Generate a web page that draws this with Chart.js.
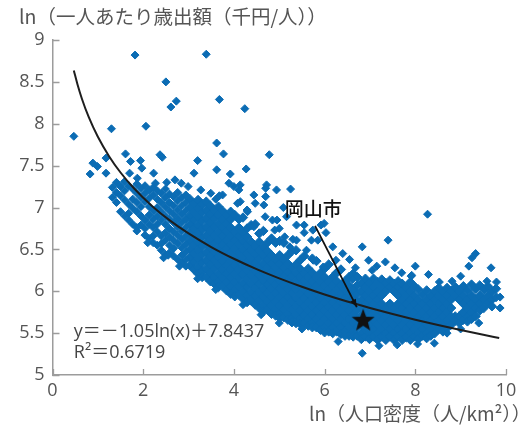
<!DOCTYPE html>
<html lang="ja">
<head>
<meta charset="utf-8">
<script src="https://cdn.jsdelivr.net/npm/chart.js@4.4.1/dist/chart.umd.min.js"></script>
<style>
  html, body { margin: 0; padding: 0; background: #fff; }
  #wrap { width: 519px; height: 427px; position: relative; }
</style>
</head>
<body>
<div id="wrap"><canvas id="densityChart"></canvas></div>
<script>
// x: ln(人口密度), y: ln(一人あたり歳出額)
const xTicks = [0, 2, 4, 6, 8, 10];
const yTicks = [5, 5.5, 6, 6.5, 7, 7.5, 8, 8.5, 9];

// scattered municipalities away from the main band
const outlierCities = [
    [0.47,7.85],[1.82,8.82],[2.5,8.5],[2.61,8.2],[2.73,8.27],[1.3,7.94],[2.06,7.97],
    [3.39,8.83],[3.68,8.29],[4.24,8.18],[3.62,7.77],[3.77,7.64],[4.78,7.63],[3.2,7.56],
    [3.62,7.45],[4.27,7.46],[3.92,7.4],[3.12,7.41],[4.7,7.23],[5.25,7.22],
    [0.89,7.53],[0.99,7.49],[0.83,7.4],[1.18,7.41],[1.18,7.59],[1.61,7.64],[1.72,7.55],
    [1.94,7.56],[1.97,7.47],[2.23,7.41],[2.37,7.63],[2.42,7.6],[2.27,7.29],[1.87,7.35],[1.7,7.41],
    [8.27,6.92],[9.33,6.45],[9.25,6.4],[9.18,6.3],[9.67,6.28],[7.91,6.18],[8.29,6.2],
    [8.53,6.11],[8.81,6.12],[9.79,6.11],[9.87,5.93],[9.87,5.8],[9.58,6.12],[9.0,6.18]
];

// fringe points above and below the dense band
const fringeCities = [
    [2.52,7.3],[2.7,7.33],[2.84,7.29],[2.99,7.25],[3.27,7.21],[3.49,7.17],[3.75,7.15],
    [3.89,7.29],[4.0,7.25],[4.11,7.21],[4.47,7.05],[4.7,7.13],[4.66,7.03],[4.72,7.27],
    [4.44,7.15],[4.14,7.07],[5.16,6.89],[5.38,6.79],[5.55,6.7],[5.74,6.73],[5.85,6.61],
    [5.09,7.0],[4.94,7.21],[5.92,6.79],[6.03,6.7],[6.4,6.45],[6.83,6.53],[7.4,6.61],
    [7.34,6.35],[7.55,6.28],[6.68,6.28],[7.05,6.25],[6.25,6.37],[7.92,6.19],[5.3,6.62],
    [5.0,6.75],[4.85,6.85],[4.3,6.95],[3.6,7.1],[6.55,6.38],[7.15,6.3],[7.7,6.22],[8.0,6.3],
    [4.14,7.27],[3.68,7.14],[4.08,7.05],[4.29,6.97],[4.69,6.89],[4.95,6.85],[5.55,6.79],
    [5.99,6.81],[5.38,6.61],[5.71,6.61],[5.23,6.53],[5.6,6.49],[6.97,6.37],[6.18,6.53],
    [4.9,6.73],[4.44,6.77],[5.12,6.65],[5.75,6.37],[5.97,6.29],[6.25,6.22],[6.62,6.14],
    [6.83,5.26],[8.42,5.38],[7.6,5.36],[8.05,5.37],[7.2,5.35],[6.3,5.4],[5.5,5.55],[5.0,5.62],
    [4.6,5.72],[4.2,5.84],[3.6,6.02],[3.2,6.15],[2.8,6.3],[2.45,6.4],[2.55,6.43],[2.1,6.58],
    [1.86,6.72],[9.0,5.55],[9.4,5.62],[8.7,5.5]
];

// dense band, one row per x: [x, y, y, ...]
const bandLow = [
    [1.32, 7.24, 7.12],
    [1.41, 7.3, 7.18, 7.06],
    [1.5, 7.25, 7.14, 6.95],
    [1.59, 7.31, 7.2, 7.09, 6.9],
    [1.68, 7.26, 7.04, 6.93, 6.85],
    [1.77, 7.22, 7.1, 6.99, 6.8],
    [1.86, 7.28, 7.17, 7.06, 6.95, 6.76],
    [1.95, 7.23, 7.12, 7.01, 6.9, 6.79],
    [2.04, 7.26, 7.17, 7.07, 6.85, 6.75, 6.67],
    [2.13, 7.21, 7.11, 7.01, 6.91, 6.8, 6.63],
    [2.22, 7.24, 7.15, 6.96, 6.86, 6.76, 6.66, 6.58],
    [2.31, 7.2, 7.1, 7.0, 6.9, 6.8, 6.71, 6.55],
    [2.4, 7.17, 7.06, 6.95, 6.85, 6.66, 6.57, 6.49],
    [2.49, 7.22, 7.12, 7.01, 6.9, 6.8, 6.7, 6.61, 6.44],
    [2.58, 7.16, 7.06, 6.96, 6.86, 6.75, 6.65, 6.55, 6.46],
    [2.67, 7.13, 7.02, 6.92, 6.82, 6.71, 6.61, 6.51, 6.42],
    [2.76, 7.18, 7.08, 6.97, 6.87, 6.77, 6.67, 6.57, 6.38],
    [2.85, 7.12, 7.02, 6.92, 6.82, 6.72, 6.62, 6.52, 6.43, 6.34],
    [2.94, 7.15, 7.06, 6.96, 6.86, 6.76, 6.66, 6.56, 6.47, 6.38, 6.3]
];

const bandMid = [
    [3.03, 7.1, 7.0, 6.9, 6.8, 6.7, 6.6, 6.5, 6.4, 6.31],
    [3.12, 7.05, 6.95, 6.85, 6.75, 6.65, 6.55, 6.45, 6.35, 6.26],
    [3.21, 7.09, 6.99, 6.89, 6.79, 6.69, 6.59, 6.49, 6.39, 6.29, 6.21],
    [3.3, 7.04, 6.94, 6.84, 6.74, 6.64, 6.54, 6.44, 6.34, 6.24, 6.17],
    [3.39, 7.07, 6.97, 6.87, 6.77, 6.67, 6.57, 6.47, 6.37, 6.27, 6.17],
    [3.48, 7.02, 6.92, 6.82, 6.72, 6.62, 6.52, 6.42, 6.32, 6.22, 6.12],
    [3.57, 6.97, 6.87, 6.77, 6.67, 6.57, 6.47, 6.37, 6.27, 6.17, 6.09],
    [3.66, 7.01, 6.91, 6.81, 6.71, 6.61, 6.51, 6.41, 6.31, 6.21, 6.11, 6.05],
    [3.75, 6.96, 6.86, 6.76, 6.66, 6.56, 6.46, 6.36, 6.26, 6.16, 6.06],
    [3.84, 6.91, 6.81, 6.71, 6.61, 6.51, 6.41, 6.31, 6.21, 6.11, 6.01],
    [3.93, 6.95, 6.86, 6.76, 6.66, 6.56, 6.46, 6.36, 6.26, 6.16, 6.06, 5.97],
    [4.02, 6.91, 6.71, 6.61, 6.51, 6.41, 6.31, 6.21, 6.11, 6.01, 5.94],
    [4.11, 6.86, 6.76, 6.66, 6.56, 6.46, 6.36, 6.26, 6.16, 6.06, 5.96],
    [4.2, 6.88, 6.7, 6.6, 6.5, 6.4, 6.3, 6.2, 6.1, 6.0, 5.91],
    [4.29, 6.75, 6.65, 6.55, 6.45, 6.35, 6.25, 6.15, 6.05, 5.95, 5.87],
    [4.38, 6.79, 6.59, 6.49, 6.39, 6.29, 6.19, 6.09, 5.99, 5.89],
    [4.47, 6.8, 6.54, 6.44, 6.34, 6.24, 6.14, 6.04, 5.94, 5.84],
    [4.56, 6.69, 6.59, 6.49, 6.39, 6.29, 6.19, 6.09, 5.99, 5.89, 5.8],
    [4.65, 6.72, 6.53, 6.43, 6.33, 6.23, 6.13, 6.03, 5.93, 5.83, 5.76],
    [4.74, 6.58, 6.48, 6.38, 6.28, 6.18, 6.08, 5.98, 5.88, 5.78],
    [4.83, 6.63, 6.43, 6.33, 6.23, 6.13, 6.03, 5.93, 5.83, 5.73],
    [4.92, 6.58, 6.38, 6.28, 6.18, 6.08, 5.98, 5.88, 5.78, 5.71],
    [5.01, 6.6, 6.43, 6.33, 6.23, 6.13, 6.03, 5.93, 5.83, 5.73, 5.68],
    [5.1, 6.58, 6.38, 6.28, 6.18, 6.08, 5.98, 5.88, 5.78, 5.69],
    [5.19, 6.43, 6.33, 6.23, 6.13, 6.03, 5.93, 5.83, 5.73, 5.66],
    [5.28, 6.48, 6.28, 6.18, 6.08, 5.98, 5.88, 5.78, 5.68, 5.63],
    [5.37, 6.49, 6.32, 6.22, 6.12, 6.02, 5.92, 5.82, 5.72, 5.62],
    [5.46, 6.37, 6.27, 6.17, 6.07, 5.97, 5.87, 5.77, 5.67, 5.61],
    [5.55, 6.42, 6.22, 6.12, 6.02, 5.92, 5.82, 5.72, 5.62],
    [5.64, 6.27, 6.17, 6.07, 5.97, 5.87, 5.77, 5.67, 5.59],
    [5.73, 6.39, 6.22, 6.12, 6.02, 5.92, 5.82, 5.72, 5.62, 5.57],
    [5.82, 6.36, 6.17, 6.07, 5.97, 5.87, 5.77, 5.67, 5.57],
    [5.91, 6.22, 6.12, 6.02, 5.92, 5.82, 5.72, 5.62, 5.54]
];

const bandHigh = [
    [6.0, 6.27, 6.17, 6.07, 5.97, 5.87, 5.77, 5.67, 5.57, 5.51],
    [6.09, 6.32, 6.12, 6.02, 5.92, 5.82, 5.72, 5.62, 5.52],
    [6.18, 6.17, 6.07, 5.97, 5.87, 5.77, 5.67, 5.57, 5.5],
    [6.27, 6.22, 6.12, 6.02, 5.92, 5.82, 5.72, 5.62, 5.52],
    [6.36, 6.26, 6.07, 5.97, 5.87, 5.77, 5.67, 5.57, 5.49],
    [6.45, 6.12, 6.02, 5.92, 5.82, 5.72, 5.62, 5.52, 5.47],
    [6.54, 6.17, 6.07, 5.97, 5.87, 5.77, 5.67, 5.57, 5.47],
    [6.63, 6.21, 6.02, 5.92, 5.82, 5.72, 5.62, 5.52, 5.46],
    [6.72, 6.17, 6.07, 5.97, 5.87, 5.77, 5.67, 5.57, 5.47],
    [6.81, 6.1, 6.0, 5.9, 5.8, 5.7, 5.6, 5.5, 5.43],
    [6.9, 6.15, 6.05, 5.95, 5.85, 5.75, 5.65, 5.55, 5.46],
    [6.99, 6.1, 6.0, 5.9, 5.8, 5.7, 5.6, 5.5, 5.43],
    [7.08, 6.15, 6.05, 5.95, 5.85, 5.75, 5.65, 5.55, 5.46],
    [7.17, 6.11, 6.0, 5.9, 5.8, 5.7, 5.6, 5.5, 5.42],
    [7.26, 6.14, 6.05, 5.95, 5.85, 5.75, 5.65, 5.55, 5.46],
    [7.35, 6.1, 6.0, 5.8, 5.7, 5.6, 5.5, 5.42],
    [7.44, 6.13, 6.05, 5.85, 5.75, 5.65, 5.55, 5.46],
    [7.53, 6.09, 6.0, 5.8, 5.7, 5.6, 5.5, 5.42],
    [7.62, 6.12, 6.05, 5.95, 5.85, 5.75, 5.65, 5.55, 5.46],
    [7.71, 6.09, 6.0, 5.9, 5.8, 5.7, 5.6, 5.5, 5.42],
    [7.8, 6.05, 5.95, 5.85, 5.75, 5.65, 5.55, 5.45],
    [7.89, 6.11, 6.0, 5.9, 5.8, 5.7, 5.6, 5.5, 5.42],
    [7.98, 6.06, 5.95, 5.85, 5.75, 5.65, 5.55, 5.46],
    [8.07, 6.02, 5.9, 5.8, 5.7, 5.6, 5.5, 5.43],
    [8.16, 5.96, 5.85, 5.75, 5.65, 5.55, 5.47],
    [8.25, 6.01, 5.9, 5.8, 5.7, 5.6, 5.5, 5.44],
    [8.34, 5.95, 5.85, 5.75, 5.65, 5.55, 5.47],
    [8.43, 6.0, 5.9, 5.8, 5.7, 5.6, 5.5],
    [8.52, 6.04, 5.95, 5.85, 5.75, 5.65, 5.55],
    [8.61, 5.99, 5.9, 5.8, 5.7, 5.6, 5.52],
    [8.7, 6.04, 5.95, 5.85, 5.75, 5.65, 5.56],
    [8.79, 6.0, 5.9, 5.8, 5.7, 5.6],
    [8.88, 6.05, 5.95, 5.7, 5.65],
    [8.97, 6.0, 5.9, 5.7, 5.62],
    [9.06, 6.06, 5.95, 5.85, 5.75, 5.66],
    [9.15, 6.01, 5.9, 5.8, 5.7, 5.64],
    [9.24, 6.08, 5.95, 5.85, 5.75, 5.67],
    [9.33, 6.03, 5.9, 5.8, 5.7],
    [9.42, 6.07, 5.95, 5.85, 5.77],
    [9.51, 6.02, 5.9, 5.8],
    [9.6, 6.06, 5.95, 5.86],
    [9.69, 6.0, 5.9, 5.82],
    [9.78, 6.03, 5.93]
];

// fitted curve
const trendX = [0.47, 0.55, 0.65, 0.8, 1.0, 1.25, 1.5, 1.8, 2.2, 2.6, 3.0, 3.5, 4.0, 4.5, 5.0, 5.5, 6.0, 6.5, 7.0, 7.5, 8.0, 8.5, 9.0, 9.5, 9.85];
const trendY = [8.637, 8.472, 8.296, 8.078, 7.844, 7.61, 7.418, 7.227, 7.016, 6.84, 6.69, 6.528, 6.388, 6.264, 6.154, 6.054, 5.962, 5.878, 5.801, 5.728, 5.66, 5.597, 5.537, 5.48, 5.442];

const okayama = { x: 6.85, y: 5.66 };
const okayamaLabel = '岡山市';
const equationLines = ['y＝－1.05ln(x)＋7.8437', 'R²＝0.6719'];

const yTitle = 'ln（一人あたり歳出額（千円/人））';
const xTitle = 'ln（人口密度（人/km²））';

// Flatten [x, y, y, ...] rows into points
function rowsToPoints(rows) {
    const pts = [];
    rows.forEach(function(row) {
        for (let i = 1; i < row.length; i++) pts.push({ x: row[0], y: row[i] });
    });
    return pts;
}

function pairsToPoints(pairs) {
    return pairs.map(function(p) { return { x: p[0], y: p[1] }; });
}

function makeStar(size, color) {
    const c = document.createElement('canvas');
    c.width = size;
    c.height = size;
    const g = c.getContext('2d');
    const cx = size / 2, cy = size / 2 + 1, outer = size / 2, inner = outer * 0.42;
    g.beginPath();
    for (let i = 0; i < 10; i++) {
        const r = i % 2 ? inner : outer;
        const a = -Math.PI / 2 + i * Math.PI / 5;
        g.lineTo(cx + r * Math.cos(a), cy + r * Math.sin(a));
    }
    g.closePath();
    g.fillStyle = color;
    g.fill();
    return c;
}

const densePoints = rowsToPoints(bandMid).concat(rowsToPoints(bandHigh));
const sparsePoints = rowsToPoints(bandLow)
    .concat(pairsToPoints(fringeCities))
    .concat(pairsToPoints(outlierCities));

const trendPoints = trendX.map(function(x, i) { return { x: x, y: trendY[i] }; });

const AXIS_COLOR = '#9c9c9c';
const TEXT_COLOR = '#555';
const DOT_COLOR = '#0b6cb4';

// Inward tick marks, axis titles and the Okayama annotation
const decorations = {
    id: 'decorations',
    afterDatasetsDraw: function(chart) {
        const ctx = chart.ctx;
        const xs = chart.scales.x, ys = chart.scales.y;
        ctx.save();

        // arrow to Okayama
        const x0 = xs.getPixelForValue(5.79), y0 = ys.getPixelForValue(6.78);
        const x1 = xs.getPixelForValue(6.71), y1 = ys.getPixelForValue(5.81);
        ctx.strokeStyle = '#111';
        ctx.fillStyle = '#111';
        ctx.lineWidth = 1.8;
        ctx.beginPath();
        ctx.moveTo(x0, y0);
        ctx.lineTo(x1, y1);
        ctx.stroke();
        const ang = Math.atan2(y1 - y0, x1 - x0);
        ctx.beginPath();
        ctx.moveTo(x1, y1);
        ctx.lineTo(x1 - 8 * Math.cos(ang) + 3 * Math.sin(ang), y1 - 8 * Math.sin(ang) - 3 * Math.cos(ang));
        ctx.lineTo(x1 - 8 * Math.cos(ang) - 3 * Math.sin(ang), y1 - 8 * Math.sin(ang) + 3 * Math.cos(ang));
        ctx.closePath();
        ctx.fill();

        ctx.font = '500 19px "Noto Sans CJK JP"';
        ctx.textAlign = 'center';
        ctx.textBaseline = 'middle';
        ctx.fillText(okayamaLabel, xs.getPixelForValue(5.75), ys.getPixelForValue(6.98));

        // regression text
        ctx.fillStyle = '#444';
        ctx.font = '18px "Open Sans", "Noto Sans CJK JP"';
        ctx.textAlign = 'left';
        ctx.fillText(equationLines[0], xs.getPixelForValue(0.47), ys.getPixelForValue(5.51));
        ctx.fillText(equationLines[1], xs.getPixelForValue(0.47), ys.getPixelForValue(5.26));
        ctx.restore();
    },
    afterDraw: function(chart) {
        const ctx = chart.ctx;
        const area = chart.chartArea;
        const xs = chart.scales.x, ys = chart.scales.y;
        ctx.save();
        ctx.strokeStyle = AXIS_COLOR;
        ctx.lineWidth = 1.3;
        ctx.beginPath();
        yTicks.forEach(function(v) {
            const py = Math.round(ys.getPixelForValue(v)) + 0.5;
            ctx.moveTo(area.left, py);
            ctx.lineTo(area.left + 7, py);
        });
        xTicks.forEach(function(v) {
            const px = Math.round(xs.getPixelForValue(v)) + 0.5;
            ctx.moveTo(px, area.bottom);
            ctx.lineTo(px, area.bottom - 6);
        });
        ctx.stroke();

        ctx.fillStyle = TEXT_COLOR;
        ctx.textAlign = 'left';
        ctx.textBaseline = 'middle';
        ctx.font = '19.5px "Noto Sans CJK JP"';
        ctx.fillText(yTitle, 19, 17);
        ctx.font = '19px "Noto Sans CJK JP"';
        ctx.fillText(xTitle, 309, 414);
        ctx.restore();
    }
};

document.addEventListener('DOMContentLoaded', function() {
    const ctx = document.getElementById('densityChart');
    if (!ctx) return;

    new Chart(ctx, {
        type: 'scatter',
        data: {
            datasets: [{
                label: '岡山市',
                data: [okayama],
                pointStyle: makeStar(24, '#111'),
                pointRadius: 12,
                order: 0
            }, {
                label: 'trend',
                type: 'line',
                data: trendPoints,
                borderColor: '#1e1e1e',
                borderWidth: 2,
                pointRadius: 0,
                fill: false,
                cubicInterpolationMode: 'monotone',
                order: 1
            }, {
                label: 'cities dense',
                data: densePoints,
                pointStyle: 'rectRot',
                pointRadius: 4.7,
                backgroundColor: DOT_COLOR,
                borderColor: DOT_COLOR,
                borderWidth: 1,
                order: 3
            }, {
                label: 'cities sparse',
                data: sparsePoints,
                pointStyle: 'rectRot',
                pointRadius: 4,
                backgroundColor: DOT_COLOR,
                borderColor: DOT_COLOR,
                borderWidth: 1,
                order: 2
            }]
        },
        options: {
            responsive: true,
            maintainAspectRatio: false,
            animation: false,
            events: [],
            layout: {
                padding: { top: 40, right: 7, left: 0, bottom: 0 }
            },
            plugins: {
                legend: { display: false },
                tooltip: { enabled: false }
            },
            scales: {
                x: {
                    type: 'linear',
                    min: 0,
                    max: 10,
                    afterFit: function(scale) {
                        scale.height = 52;
                        scale.paddingLeft = 0;
                        scale.paddingRight = 0;
                    },
                    ticks: {
                        stepSize: 2,
                        padding: 5,
                        color: TEXT_COLOR,
                        font: { family: 'Open Sans', size: 18 }
                    },
                    grid: { drawOnChartArea: false, drawTicks: false },
                    border: { display: true, color: AXIS_COLOR, width: 1.5 }
                },
                y: {
                    type: 'linear',
                    min: 5,
                    max: 9,
                    afterFit: function(scale) {
                        scale.width = 52.5;
                        scale.paddingTop = 0;
                        scale.paddingBottom = 0;
                    },
                    ticks: {
                        stepSize: 0.5,
                        padding: 8,
                        color: TEXT_COLOR,
                        font: { family: 'Open Sans', size: 18 },
                        callback: function(value) {
                            return String(value);
                        }
                    },
                    grid: { drawOnChartArea: false, drawTicks: false },
                    border: { display: true, color: AXIS_COLOR, width: 1.5 }
                }
            }
        },
        plugins: [decorations]
    });
});
</script>
</body>
</html>
